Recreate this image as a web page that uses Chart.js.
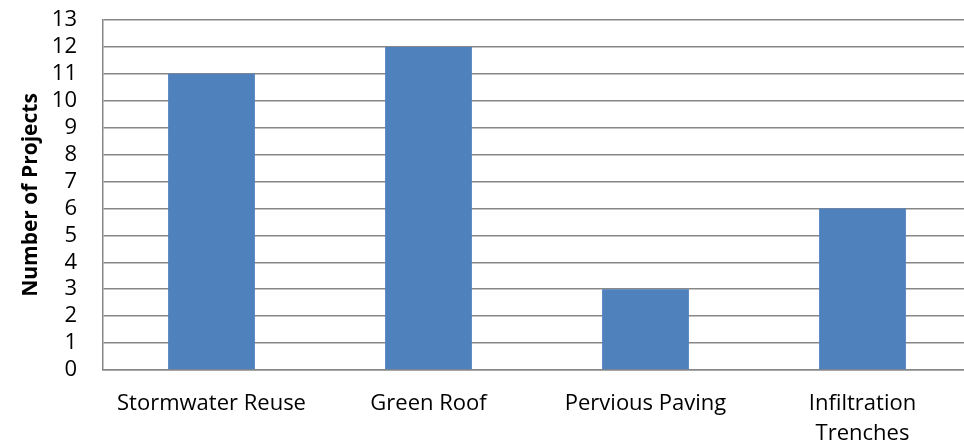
<!DOCTYPE html>
<html>
<head>
<meta charset="UTF-8">
<script src="https://cdn.jsdelivr.net/npm/chart.js"></script>
<style>
  body { margin: 0; background: #fff; overflow: hidden; }
  /* o grafico original continua um pouco depois da borda direita */
  #wrap { width: 971px; height: 448px; position: relative; }
</style>
</head>
<body>
<div id="wrap"><canvas id="grafico"></canvas></div>
<script>
  const categorias = ['Stormwater Reuse', 'Green Roof', 'Pervious Paving', ['Infiltration', 'Trenches']]
  const projetos = [11, 12, 3, 6]
  const yMax = 13

  const fonte = { family: '"Open Sans", sans-serif', size: 22 }

  new Chart(grafico, {
    type: 'bar',
    data: {
      labels: categorias,
      datasets: [{
        label: 'Number of Projects',
        data: projetos,
        backgroundColor: '#4F81BD',
        borderWidth: 0,
        categoryPercentage: 1,
        barPercentage: 0.4
      }]
    },
    options: {
      responsive: true,
      maintainAspectRatio: false,
      animation: false,
      layout: { padding: { top: 20, right: 0, left: 18, bottom: 0 } },
      plugins: { legend: { display: false }, tooltip: { enabled: false } },
      scales: {
        x: {
          grid: { display: false, drawTicks: false },
          border: { display: true, color: '#878787', width: 1.5 },
          ticks: { color: '#000', font: { ...fonte, lineHeight: 1.35 }, padding: 19, maxRotation: 0 },
          afterFit: (s) => { s.height = 78; s.paddingLeft = 0; s.paddingRight = 0 }
        },
        y: {
          min: 0,
          max: yMax,
          grid: { color: '#878787', lineWidth: 1.5, drawTicks: false },
          border: { display: true, color: '#878787', width: 1.5 },
          ticks: { stepSize: 1, autoSkip: false, color: '#000', font: fonte, padding: 26 },
          title: {
            display: true,
            text: 'Number of Projects',
            color: '#000',
            font: { family: fonte.family, size: 21, weight: 'bold' },
            padding: { top: 0, bottom: 0 }
          },
          afterFit: (s) => { s.width = 85; s.paddingTop = 0; s.paddingBottom = 0 }
        }
      }
    }
  })
</script>
</body>
</html>
